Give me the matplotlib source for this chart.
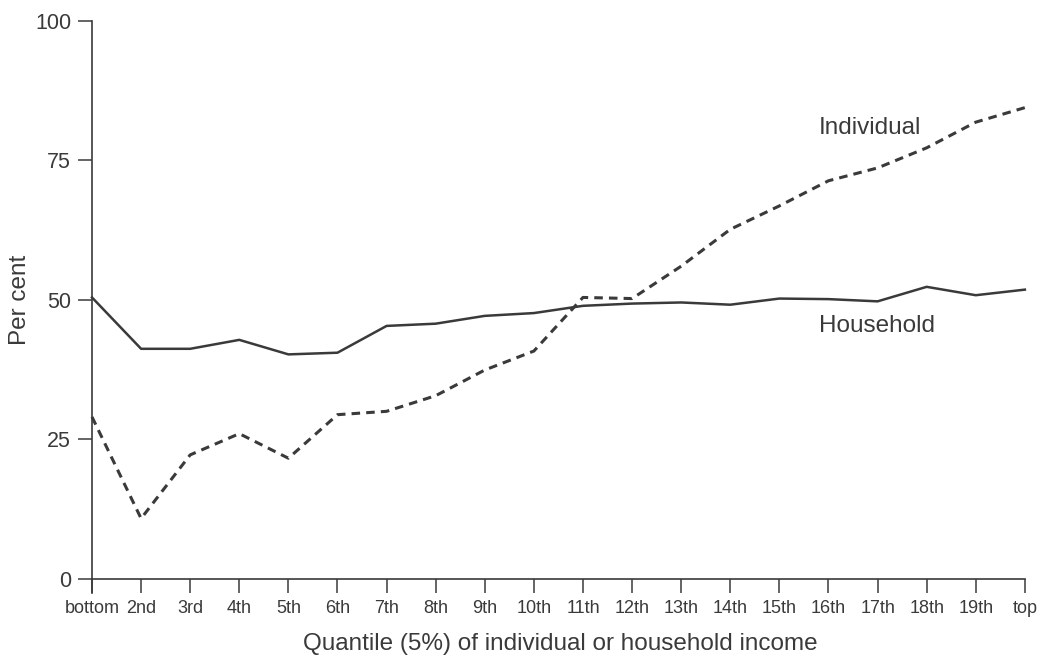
import matplotlib.pyplot as plt
import numpy as np

# quantile labels along the x axis
quantiles = ['bottom', '2nd', '3rd', '4th', '5th', '6th', '7th', '8th', '9th', '10th',
             '11th', '12th', '13th', '14th', '15th', '16th', '17th', '18th', '19th', 'top']

# per cent values
household = [50.4, 41.2, 41.2, 42.8, 40.2, 40.5, 45.3, 45.7, 47.1, 47.6,
             48.9, 49.3, 49.5, 49.1, 50.2, 50.1, 49.7, 52.3, 50.8, 51.8]
individual = [29.0, 10.8, 22.2, 26.0, 21.6, 29.4, 30.0, 32.8, 37.4, 40.8,
              50.4, 50.2, 56.0, 62.6, 66.8, 71.3, 73.6, 77.2, 81.8, 84.4]

ink = '#3a3a3a'
plt.rcParams['font.family'] = ['Liberation Sans', 'DejaVu Sans']

fig = plt.figure(figsize=(10.49, 6.63), dpi=100)
fig.patch.set_facecolor('white')
ax = fig.add_axes([0.0877, 0.127, 0.8893, 0.842])

x = np.arange(len(quantiles))
ax.plot(x, household, color=ink, lw=1.8, clip_on=False)
ax.plot(x, individual, color=ink, lw=2.2, linestyle=(0, (2.8, 2.0)), clip_on=False)

ax.text(14.8, 80.8, 'Individual', fontsize=17.5, color=ink, ha='left', va='center')
ax.text(14.8, 45.3, 'Household', fontsize=17.5, color=ink, ha='left', va='center')

ax.set_xlim(0, 19)
ax.set_ylim(0, 100)
ax.set_xticks(x)
ax.set_xticklabels(quantiles, fontsize=13, color=ink)
ax.set_yticks([0, 25, 50, 75, 100])
ax.set_yticklabels(['0', '25', '50', '75', '100'], fontsize=15.5, color=ink)
ax.tick_params(axis='x', direction='out', length=10, width=1.1, color=ink, pad=5)
ax.tick_params(axis='y', direction='out', length=10, width=1.1, color=ink, pad=5)

for side in ['top', 'right']:
    ax.spines[side].set_visible(False)
for side in ['left', 'bottom']:
    ax.spines[side].set_color(ink)
    ax.spines[side].set_linewidth(1.2)
ax.spines['left'].set_bounds(-2.5, 100)

fig.text(20 / 1049, 1 - 300 / 663, 'Per cent', rotation=90, fontsize=17.5, color=ink,
         ha='center', va='center')
fig.text(560 / 1049, 1 - 644 / 663, 'Quantile (5%) of individual or household income',
         fontsize=17.5, color=ink, ha='center', va='center')

plt.savefig('out.png', dpi=100, facecolor='white')
